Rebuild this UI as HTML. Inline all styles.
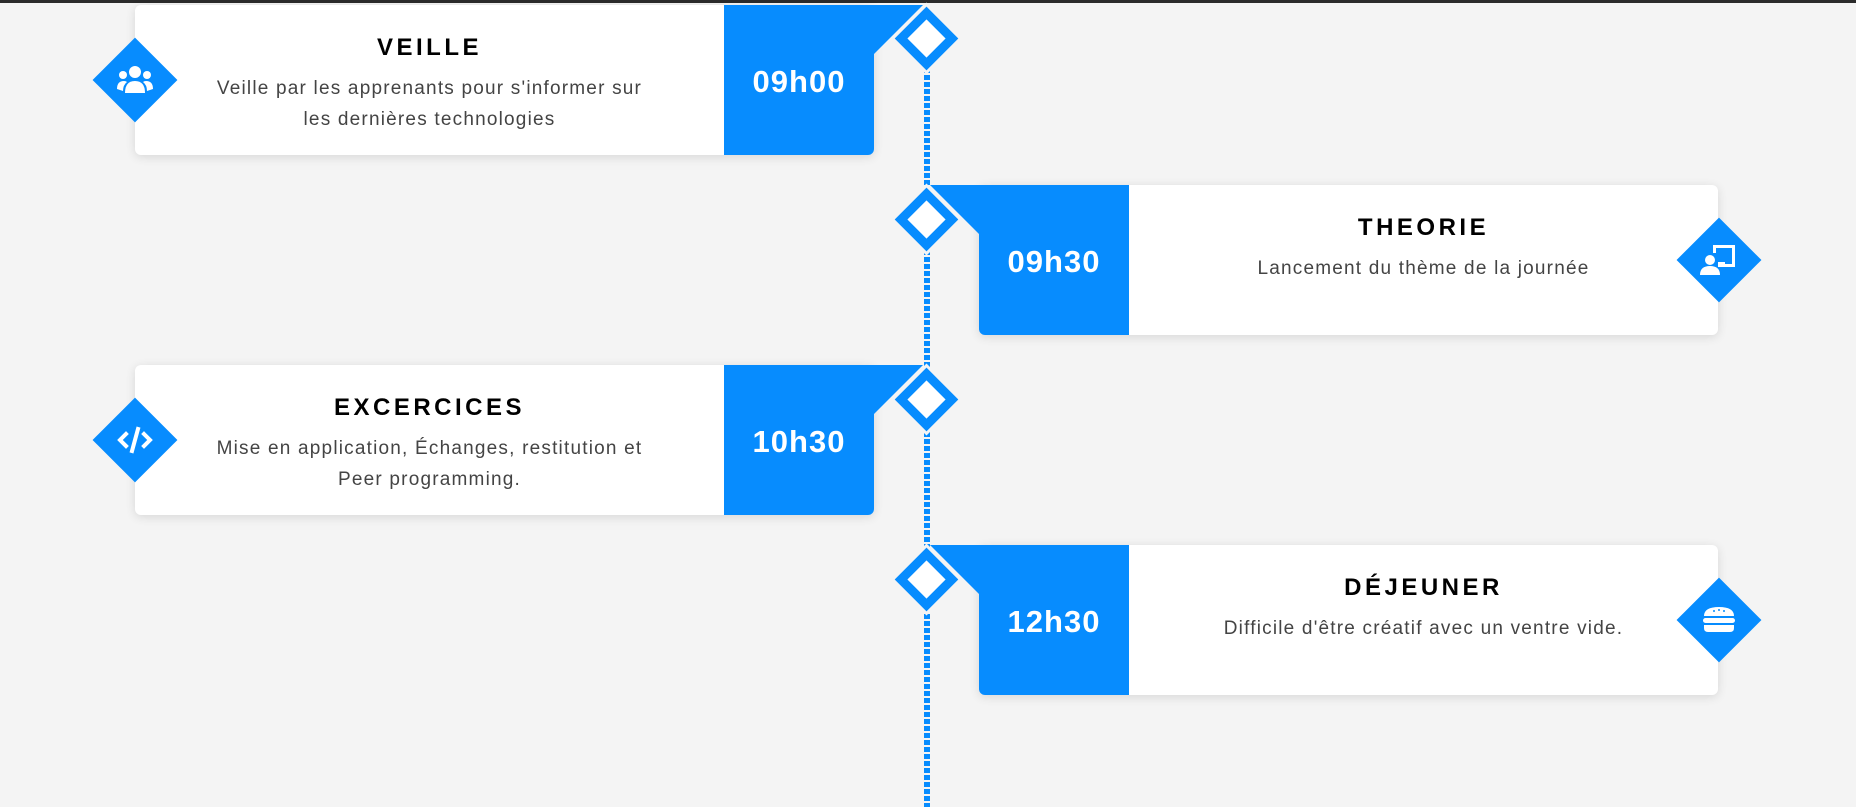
<!DOCTYPE html>
<html><head><meta charset="utf-8"><style>
*{margin:0;padding:0;box-sizing:border-box}
body{width:1856px;height:807px;background:#f4f4f4;position:relative;overflow:hidden;font-family:"Liberation Sans",Arial,sans-serif}
.topbar{position:absolute;left:0;top:0;width:1856px;height:3px;background:#2b2b2b}
.line{position:absolute;left:924px;top:40px;width:6px;height:767px;background:repeating-linear-gradient(to bottom,#078cfe 0 5px,transparent 5px 7px)}
.card{position:absolute;height:150px;width:739px;background:#fff;border-radius:6px;box-shadow:0 2px 10px rgba(0,0,0,.12)}
.blue{position:absolute;top:0;width:150px;height:150px;background:#078cfe;color:#fff;font-weight:900;font-size:31px;display:flex;align-items:center;justify-content:center;letter-spacing:1px;padding-top:3px}
.L .blue{right:0;border-radius:0 0 6px 0}
.R .blue{left:0;border-radius:0 0 0 6px}
.txt{position:absolute;top:0;width:589px;text-align:center}
.L .txt{left:0}.R .txt{left:150px}
.title{margin-top:26px;font-size:24px;font-weight:900;letter-spacing:3.5px;color:#000;line-height:34px}
.desc{margin-top:8px;font-size:19px;letter-spacing:1.2px;color:#444;line-height:31px;padding:0 20px;white-space:nowrap}
.dia{position:absolute;width:45px;height:45px;background:#fff;border:9px solid #078cfe;transform:rotate(45deg)}
.dwrap{position:absolute;width:51px;height:51px;background:#f4f4f4;transform:rotate(45deg)}
.ic{position:absolute;width:60px;height:60px;background:#078cfe;transform:rotate(45deg)}
.ic2{position:absolute;width:84px;height:84px;display:flex;align-items:center;justify-content:center}
</style></head><body>
<div class="topbar"></div>
<div class="line"></div>

<div class="card L" style="left:135px;top:5px">
 <div class="txt"><div class="title">VEILLE</div><div class="desc">Veille par les apprenants pour s'informer sur<br>les dernières technologies</div></div>
 <div class="blue">09h00</div>
</div>
<svg style="position:absolute;left:870px;top:5px" width="60" height="52"><polygon points="4,0 53,0 4,49" fill="#078cfe"/></svg>

<div class="card R" style="left:979px;top:185px">
 <div class="blue">09h30</div>
 <div class="txt"><div class="title">THEORIE</div><div class="desc">Lancement du thème de la journée</div></div>
</div>
<svg style="position:absolute;left:926px;top:185px" width="60" height="52"><polygon points="4,0 53,0 53,49" fill="#078cfe"/></svg>

<div class="card L" style="left:135px;top:365px">
 <div class="txt"><div class="title">EXCERCICES</div><div class="desc">Mise en application, Échanges, restitution et<br>Peer programming.</div></div>
 <div class="blue">10h30</div>
</div>
<svg style="position:absolute;left:870px;top:365px" width="60" height="52"><polygon points="4,0 53,0 4,49" fill="#078cfe"/></svg>

<div class="card R" style="left:979px;top:545px">
 <div class="blue">12h30</div>
 <div class="txt"><div class="title">DÉJEUNER</div><div class="desc">Difficile d'être créatif avec un ventre vide.</div></div>
</div>
<svg style="position:absolute;left:926px;top:545px" width="60" height="52"><polygon points="4,0 53,0 53,49" fill="#078cfe"/></svg>

<div class="dwrap" style="left:901px;top:13px"></div><div class="dia" style="left:904px;top:16px"></div>
<div class="dwrap" style="left:901px;top:194px"></div><div class="dia" style="left:904px;top:197px"></div>
<div class="dwrap" style="left:901px;top:374px"></div><div class="dia" style="left:904px;top:377px"></div>
<div class="dwrap" style="left:901px;top:554px"></div><div class="dia" style="left:904px;top:557px"></div>

<div class="ic" style="left:105px;top:50px"></div>
<div class="ic2" style="left:93px;top:38px"><svg width="40" height="30" viewBox="0 0 40 30" fill="#fff"><circle cx="20" cy="7" r="6"/><circle cx="8" cy="10" r="4"/><circle cx="32" cy="10" r="4"/><path d="M10 28 q0-12 10-12 q10 0 10 12z"/><path d="M2 24 q0-8 7-8 q2 0 3 1 q-4 3-4 9z"/><path d="M38 24 q0-8-7-8 q-2 0-3 1 q4 3 4 9z"/></svg></div>

<div class="ic" style="left:1689px;top:230px"></div>
<div class="ic2" style="left:1677px;top:218px"><svg width="40" height="34" viewBox="0 0 40 34" fill="#fff"><path d="M14 2h22v22h-12v-3h9v-16h-16v5h-3z"/><rect x="19" y="19" width="7" height="5"/><circle cx="11" cy="17" r="5"/><path d="M1 32 q0-9 10-9 q10 0 10 9z"/></svg></div>

<div class="ic" style="left:105px;top:410px"></div>
<div class="ic2" style="left:93px;top:398px"><svg width="40" height="30" viewBox="0 0 40 30"><g stroke="#fff" stroke-width="4" fill="none" stroke-linecap="square"><path d="M11 9l-6 6 6 6"/><path d="M29 9l6 6-6 6"/><path d="M23 4l-6 22"/></g></svg></div>

<div class="ic" style="left:1689px;top:590px"></div>
<div class="ic2" style="left:1677px;top:578px"><svg width="34" height="30" viewBox="0 0 34 30" fill="#fff"><path d="M2 11 q0-9 15-9 q15 0 15 9z"/><rect x="1" y="13" width="32" height="5" rx="2.5"/><path d="M2 20h30v3q0 4-4 4h-22q-4 0-4-4z"/><circle cx="12" cy="6" r="1" fill="#078cfe"/><circle cx="17" cy="5" r="1" fill="#078cfe"/><circle cx="22" cy="6" r="1" fill="#078cfe"/></svg></div>
</body></html>
